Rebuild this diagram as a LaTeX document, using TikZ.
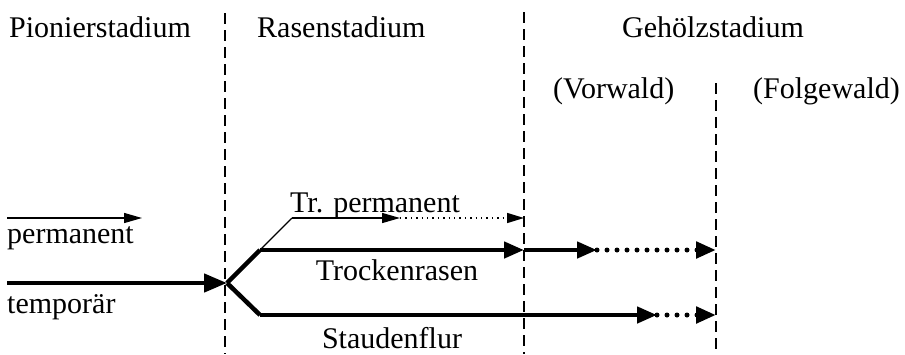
\documentclass[tikz,border=0pt]{standalone}
\usepackage{fontspec}
\setmainfont{Liberation Serif}
\usetikzlibrary{arrows.meta}
\begin{document}
\begin{tikzpicture}[x=1pt,y=-1pt,
  lbl/.style={inner sep=0pt,anchor=base west,font=\fontsize{30}{36}\selectfont},
  lblc/.style={inner sep=0pt,anchor=base,font=\fontsize{30}{36}\selectfont},
  sep/.style={line width=1.2pt,dash pattern=on 11pt off 6pt},
  thin/.style={line width=1.4pt,-{Triangle[length=18pt,width=10pt]}},
  thindot/.style={line width=1.4pt,dash pattern=on 1.4pt off 4pt,-{Triangle[length=17pt,width=10pt]}},
  thick/.style={line width=4.5pt,-{Triangle[length=20pt,width=16pt]}},
  bigtip/.style={line width=4.5pt,-{Triangle[length=23pt,width=18pt]}},
  thickplain/.style={line width=4.5pt},
  thickdot/.style={line width=5pt,line cap=round,dash pattern=on 0pt off 10pt,-{Triangle[length=20pt,width=16pt]}},
  thinplain/.style={line width=1.4pt}]
\useasboundingbox (0,0) rectangle (905,354);
% separators
\coordinate (s1t) at (225,13); \coordinate (s1b) at (225,354);
\coordinate (s2t) at (524,12); \coordinate (s2b) at (524,354);
\coordinate (s3t) at (716,83); \coordinate (s3b) at (716,354);
\draw[sep] (s1t) -- (s1b);
\draw[sep] (s2t) -- (s2b);
\draw[sep] (s3t) -- (s3b);
% headings
\node[lbl] (pion) at (9,37) {Pionierstadium};
\node[lbl] (rasen) at (257,37) {Rasenstadium};
\node[lbl] (geh) at (622,37) {Gehölzstadium};
\node[lbl] (vor) at (553,98) {(Vorwald)};
\node[lbl] (folg) at (753,98) {(Folgewald)};
% legend
\coordinate (pa) at (7,218); \coordinate (pb) at (142,218);
\draw[thin] (pa) -- (pb);
\node[lbl] (perm) at (7,243) {permanent};
\coordinate (ta) at (7,283); \coordinate (j) at (227,283);
\draw[bigtip] (ta) -- (j);
\node[lbl] (temp) at (7,313) {temporär};
% branches
\coordinate (b1) at (260,250);
\coordinate (b2) at (260,315);
\coordinate (tp0) at (292,218);
\coordinate (tp1) at (400,218);
\coordinate (tp2) at (524,218);
\coordinate (tr1) at (524,250);
\coordinate (tr2) at (597,250);
\coordinate (tr3) at (716,250);
\coordinate (st1) at (657,315);
\coordinate (st2) at (716,315);
\draw[thickplain,line join=miter] (j) -- (b1);
\draw[thickplain,line join=miter] (j) -- (b2);
\draw[thinplain] (b1) -- (tp0);
\draw[thin] (tp0) -- (tp1);
\draw[thindot] (tp1) -- (tp2);
\draw[thick] (b1) -- (tr1);
\draw[thick] (tr1) -- (tr2);
\draw[thickdot] (tr2) -- (tr3);
\draw[thick] (b2) -- (st1);
\draw[thickdot] (st1) -- (st2);
% labels
\node[lblc] (trp) at (375,212) {Tr. permanent};
\node[lblc] (trk) at (397,280) {Trockenrasen};
\node[lblc] (std) at (392,348) {Staudenflur};
\end{tikzpicture}
\end{document}
